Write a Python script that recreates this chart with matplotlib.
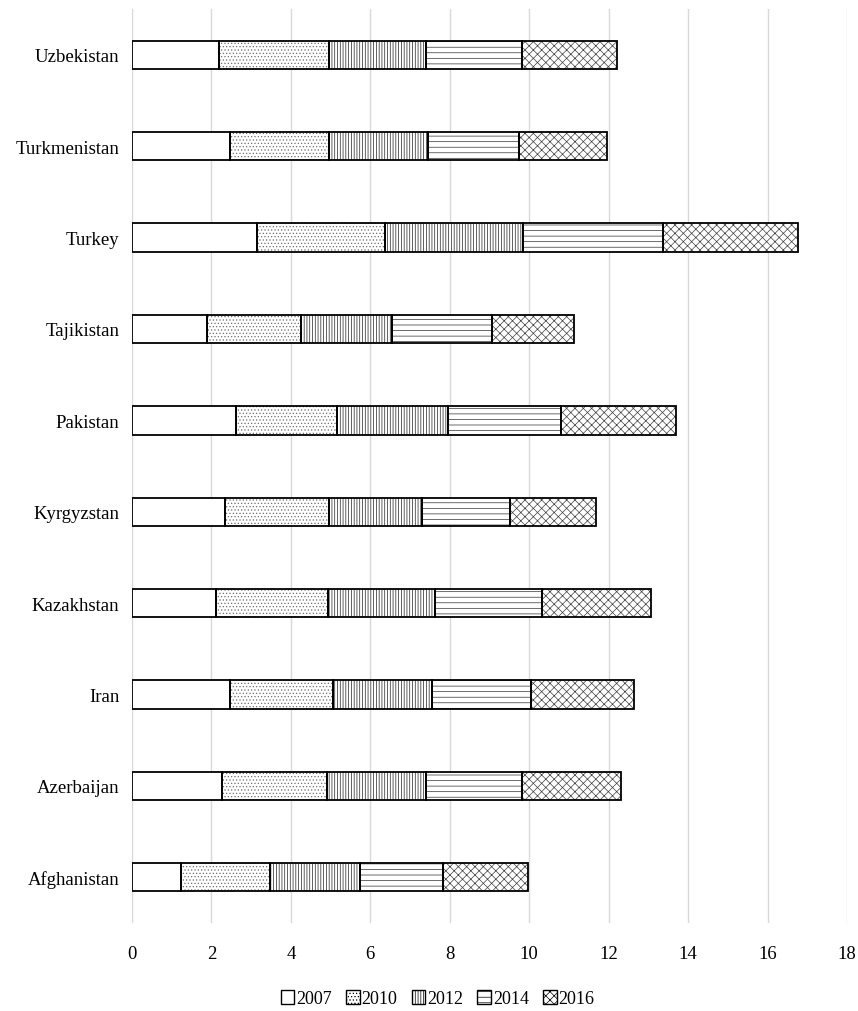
import numpy as np
import matplotlib
matplotlib.use("Agg")
import matplotlib.pyplot as plt
from matplotlib.patches import Patch

# Countries, bottom to top
countries = ["Afghanistan", "Azerbaijan", "Iran", "Kazakhstan", "Kyrgyzstan",
             "Pakistan", "Tajikistan", "Turkey", "Turkmenistan", "Uzbekistan"]
years = ["2007", "2010", "2012", "2014", "2016"]

v2007 = [1.23, 2.26, 2.48, 2.11, 2.33, 2.61, 1.90, 3.14, 2.46, 2.19]
v2010 = [2.24, 2.65, 2.58, 2.82, 2.62, 2.54, 2.36, 3.22, 2.49, 2.77]
v2012 = [2.27, 2.48, 2.49, 2.70, 2.36, 2.81, 2.28, 3.49, 2.51, 2.44]
v2014 = [2.10, 2.43, 2.49, 2.68, 2.21, 2.83, 2.53, 3.51, 2.29, 2.42]
v2016 = [2.14, 2.48, 2.59, 2.76, 2.15, 2.91, 2.06, 3.41, 2.22, 2.39]

series = [v2007, v2010, v2012, v2014, v2016]
hatches = ["", ".....", "||||||", "---", "xxxx"]
hatch_colors = ["black", "#707070", "#202020", "#303030", "#404040"]

plt.rcParams["font.family"] = ["Liberation Serif", "DejaVu Serif"]
plt.rcParams["hatch.linewidth"] = 0.5

fig = plt.figure(figsize=(8.58, 10.12), dpi=100)
ax = fig.add_axes([0.1538, 0.087, 0.8334, 0.903])

y = np.arange(len(countries))
left = np.zeros(len(countries))
handles = []
for vals, year, h, hc in zip(series, years, hatches, hatch_colors):
    # hatch layer (hatch takes the edge colour), then a black outline on top
    ax.barh(y, vals, left=left, height=0.31, color="white", edgecolor=hc,
            hatch=h, linewidth=0, zorder=3)
    ax.barh(y, vals, left=left, height=0.31, fill=False, edgecolor="black",
            linewidth=1.3, zorder=4)
    handles.append(Patch(facecolor="white", edgecolor="black", hatch=h,
                         linewidth=1.0, label=year))
    left += np.array(vals)

ax.set_xlim(0, 18)
ax.set_ylim(-0.5, len(countries) - 0.5)
ax.set_xticks(np.arange(0, 19, 2))
ax.set_yticks(y)
ax.set_yticklabels(countries)
ax.grid(True, axis="x", color="#d9d9d9", linewidth=1, zorder=0)
for s in ax.spines.values():
    s.set_visible(False)
ax.tick_params(axis="both", length=0, labelsize=13.5)
ax.tick_params(axis="y", pad=9)
ax.tick_params(axis="x", pad=16)

fig.legend(handles=handles, loc="center", bbox_to_anchor=(0.51, 0.012), ncol=5,
           frameon=False, fontsize=13, handlelength=0.75, handleheight=0.75,
           handletextpad=0.1, columnspacing=0.8)

fig.savefig("out.png", dpi=100)
